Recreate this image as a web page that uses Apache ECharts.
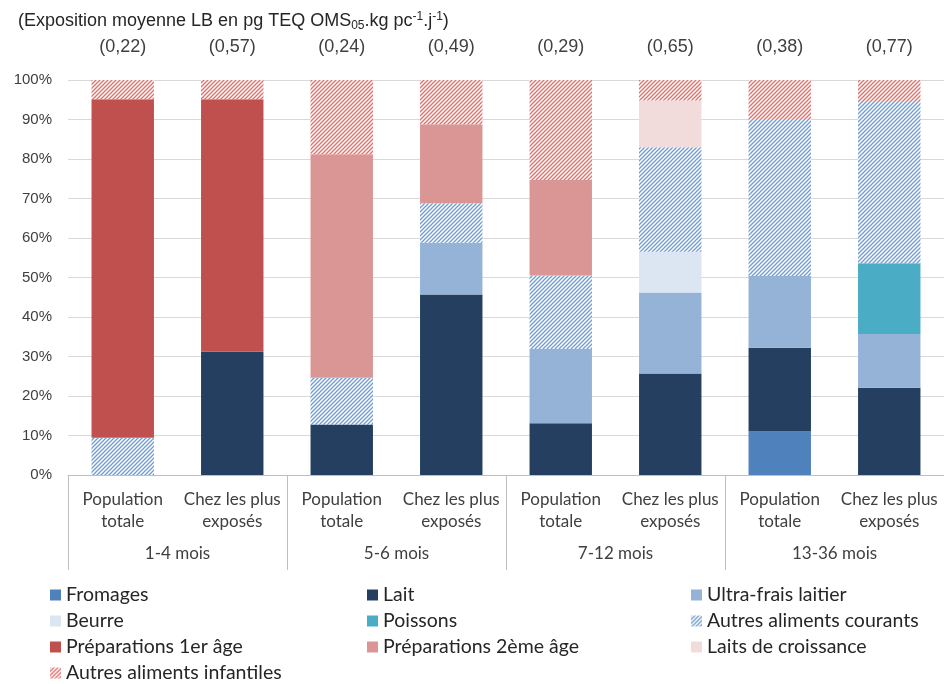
<!DOCTYPE html>
<html>
<head>
<meta charset="utf-8">
<script src="https://cdn.jsdelivr.net/npm/echarts@6/dist/echarts.min.js"></script>
<style>
  html, body { margin: 0; padding: 0; background: #fff; }
  #chart { width: 944px; height: 684px; }
</style>
</head>
<body>
<div id="chart"></div>
<script>
// Bar categories (two per age group) and the age groups underneath
const categories = [
  'Population\ntotale', 'Chez les plus\nexposés',
  'Population\ntotale', 'Chez les plus\nexposés',
  'Population\ntotale', 'Chez les plus\nexposés',
  'Population\ntotale', 'Chez les plus\nexposés'
];
const ageGroups = ['1-4 mois', '5-6 mois', '7-12 mois', '13-36 mois'];

// Mean exposure shown above each bar
const expositionLabels = ['(0,22)', '(0,57)', '(0,24)', '(0,49)', '(0,29)', '(0,65)', '(0,38)', '(0,77)'];

// Share of exposure (%) by food group, stacked bottom to top
const fromages            = [0, 0, 0, 0, 0, 0, 11.0, 0];
const lait                = [0, 31.2, 12.8, 45.7, 13.1, 25.7, 21.2, 22.1];
const ultraFrais          = [0, 0, 0, 13.1, 18.8, 20.5, 18.2, 13.6];
const beurre              = [0, 0, 0, 0, 0, 10.3, 0, 0];
const poissons            = [0, 0, 0, 0, 0, 0, 0, 17.9];
const autresCourants      = [9.4, 0, 11.8, 10.0, 18.6, 26.5, 39.7, 41.1];
const preparations1       = [85.7, 63.9, 0, 0, 0, 0, 0, 0];
const preparations2       = [0, 0, 56.6, 20.0, 24.2, 0, 0, 0];
const laitsCroissance     = [0, 0, 0, 0, 0, 11.8, 0, 0];
const autresInfantiles    = [4.9, 4.9, 18.8, 11.2, 25.3, 5.2, 9.9, 5.3];

const yTicks = [0, 10, 20, 30, 40, 50, 60, 70, 80, 90, 100];

// Diagonal hatch fill
function hatch(color) {
  const s = 4;
  const c = document.createElement('canvas');
  c.width = s; c.height = s;
  const g = c.getContext('2d');
  g.fillStyle = '#ffffff';
  g.fillRect(0, 0, s, s);
  g.strokeStyle = color;
  g.lineWidth = 1.3;
  g.beginPath();
  g.moveTo(0, s); g.lineTo(s, 0);
  g.moveTo(-1, 1); g.lineTo(1, -1);
  g.moveTo(s - 1, s + 1); g.lineTo(s + 1, s - 1);
  g.stroke();
  return { image: c, repeat: 'repeat' };
}

const calibriLike = 'Lato, "Noto Sans", sans-serif';
const arialLike = '"Liberation Sans", Arial, sans-serif';

const seriesDefs = [
  { name: 'Fromages', data: fromages, color: '#4F81BD' },
  { name: 'Lait', data: lait, color: '#243F60' },
  { name: 'Ultra-frais laitier', data: ultraFrais, color: '#95B3D7' },
  { name: 'Beurre', data: beurre, color: '#DCE6F2' },
  { name: 'Poissons', data: poissons, color: '#4BACC6' },
  { name: 'Autres aliments courants', data: autresCourants, color: hatch('#6F9AD2') },
  { name: 'Préparations 1er âge', data: preparations1, color: '#C0504D' },
  { name: 'Préparations 2ème âge', data: preparations2, color: '#D99694' },
  { name: 'Laits de croissance', data: laitsCroissance, color: '#F2DCDB' },
  { name: 'Autres aliments infantiles', data: autresInfantiles, color: hatch('#DE6E6B') }
];

const series = seriesDefs.map((d, i) => ({
  name: d.name,
  type: 'bar',
  stack: 'total',
  data: d.data,
  barCategoryGap: '43%',
  itemStyle: { color: d.color },
  label: i === seriesDefs.length - 1 ? {
    show: true,
    position: 'top',
    distance: 24,
    formatter: p => expositionLabels[p.dataIndex],
    fontFamily: arialLike,
    fontSize: 18,
    color: '#404040'
  } : { show: false }
}));

const legendBase = {
  orient: 'vertical',
  top: 585,
  padding: 0,
  itemWidth: 11,
  itemHeight: 11,
  itemGap: 6,
  icon: 'rect',
  selectedMode: false,
  textStyle: { fontFamily: calibriLike, fontSize: 19.5, lineHeight: 20, color: '#262626' }
};

const chart = echarts.init(document.getElementById('chart'), null, { renderer: 'canvas' });
chart.setOption({
  animation: false,
  backgroundColor: '#ffffff',
  title: {
    text: '(Exposition moyenne LB en pg TEQ OMS{sub|05}.kg pc{sup|-1}.j{sup|-1})',
    left: 13,
    top: 6,
    textStyle: {
      fontFamily: arialLike,
      fontSize: 18,
      fontWeight: 'normal',
      color: '#262626',
      lineHeight: 21,
      rich: {
        sub: { fontFamily: arialLike, fontSize: 12, color: '#262626', verticalAlign: 'bottom', lineHeight: 10, padding: [6, 0, 0, 0] },
        sup: { fontFamily: arialLike, fontSize: 12, color: '#262626', verticalAlign: 'top', lineHeight: 10, padding: [0, 0, 4, 0] }
      }
    }
  },
  grid: { left: 68, top: 80, width: 883, height: 395, containLabel: false },
  legend: [
    Object.assign({}, legendBase, { left: 50, data: ['Fromages', 'Beurre', 'Préparations 1er âge', 'Autres aliments infantiles'] }),
    Object.assign({}, legendBase, { left: 367, data: ['Lait', 'Poissons', 'Préparations 2ème âge'] }),
    Object.assign({}, legendBase, { left: 691, data: ['Ultra-frais laitier', 'Autres aliments courants', 'Laits de croissance'] })
  ],
  xAxis: [
    {
      type: 'category',
      data: categories,
      axisLine: { lineStyle: { color: '#BFBFBF' } },
      axisTick: { show: false },
      axisLabel: { interval: 0, margin: 14, fontFamily: calibriLike, fontSize: 17, lineHeight: 22, color: '#404040' }
    },
    {
      type: 'category',
      data: ageGroups,
      position: 'bottom',
      axisLine: { show: false },
      axisTick: { show: true, length: 95, lineStyle: { color: '#BFBFBF' } },
      axisLabel: { interval: 0, margin: 68, fontFamily: calibriLike, fontSize: 17, lineHeight: 22, color: '#404040' }
    }
  ],
  yAxis: {
    type: 'value',
    min: yTicks[0],
    max: yTicks[yTicks.length - 1],
    interval: 10,
    axisLine: { show: false },
    axisTick: { show: false },
    splitLine: { lineStyle: { color: '#D9D9D9', width: 1 } },
    axisLabel: { margin: 16, formatter: '{value}%', fontFamily: arialLike, fontSize: 15, color: '#404040' }
  },
  series: series
});
</script>
</body>
</html>
